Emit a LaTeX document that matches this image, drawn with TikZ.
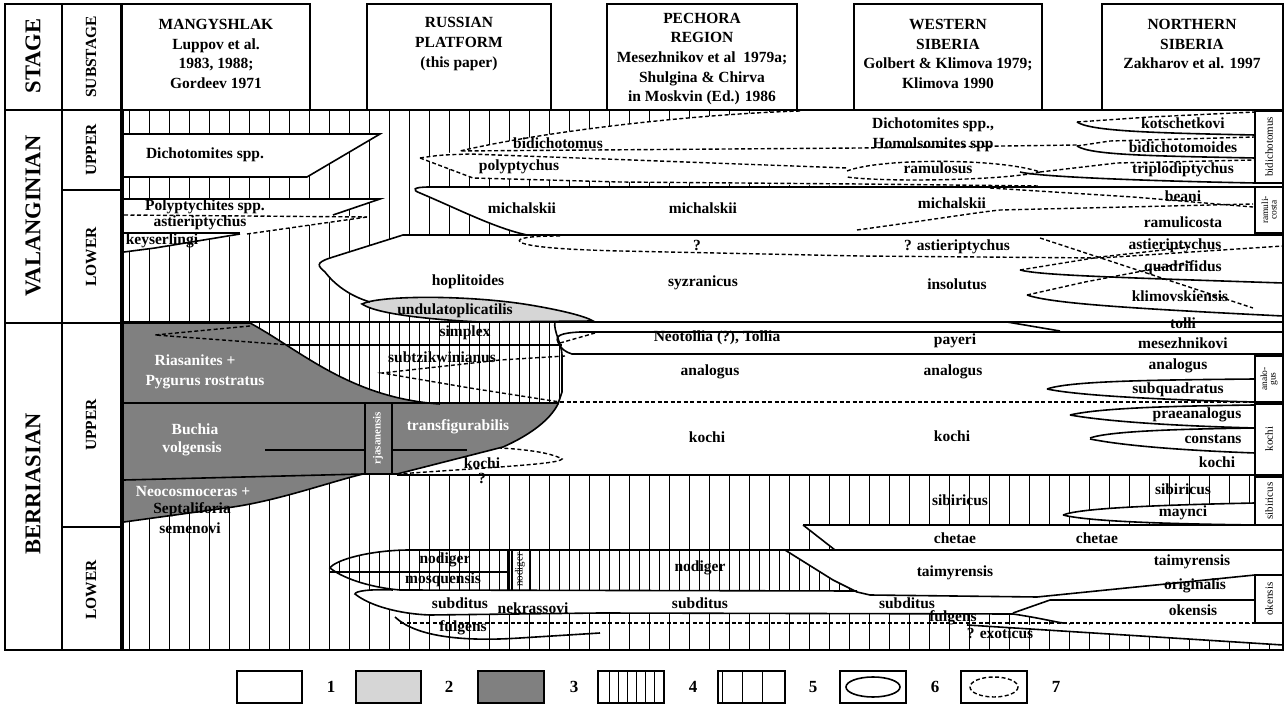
\documentclass[tikz,border=0pt]{standalone}
\usepackage{fontspec}
\setmainfont{Liberation Serif}
\definecolor{dgrey}{RGB}{128,128,128}
\definecolor{lgrey}{RGB}{214,214,214}
\begin{document}
\begin{tikzpicture}[x=1pt,y=-1pt,
  frame/.style={line width=1.8pt},
  hatch/.style={line width=0.65pt},
  ln/.style={line width=1.6pt},
  dsh/.style={line width=1.4pt,dash pattern=on 4pt off 2.5pt},
  lab/.style={font=\fontsize{15.5}{16}\selectfont\bfseries, inner sep=0pt},
  wlab/.style={lab, text=white},
  hdr/.style={font=\fontsize{15.5}{19.7}\selectfont\bfseries, align=center, inner sep=0pt},
  stg/.style={font=\fontsize{22.5}{23}\selectfont\bfseries, rotate=90, inner sep=0pt},
  sub/.style={font=\fontsize{15.5}{16}\selectfont\bfseries, rotate=90, inner sep=0pt},
  sml/.style={font=\fontsize{11}{10}\selectfont, rotate=90, inner sep=0pt, align=center},
  leg/.style={font=\fontsize{17}{18}\selectfont\bfseries, inner sep=0pt}]
\useasboundingbox (0,0) rectangle (1286,708);
\fill[white] (0,0) rectangle (1286,708);

% ---------- sparse hatch over body ----------
\foreach \x in {129,149,...,1270} \draw[hatch] (\x,111) -- (\x,649);

% ---------- dense hatch regions ----------
\begin{scope}
  \clip (124,322) -- (555,322) .. controls (553,330) and (562,345) .. (562,355) -- (562,392) -- (558,404) -- (124,404) -- cycle;
  \foreach \x in {139,159,...,560} \draw[hatch] (\x,320) -- (\x,406);
\end{scope}
\begin{scope}
  \clip (410,550) .. controls (370,550) and (335,560) .. (330,568) .. controls (345,580) and (375,588) .. (400,590) -- (857,591) -- (833,580) -- (785,550) -- cycle;
  \foreach \x in {339,359,...,860} \draw[hatch] (\x,548) -- (\x,593);
\end{scope}

% ---------- white zones ----------
\fill[white] (124,134) -- (380,134) -- (307,177) -- (124,177) -- cycle;
\fill[white] (420,158) -- (460,151) .. controls (550,130) and (700,114) .. (800,111) -- (1282,111) -- (1282,187) -- (860,186) -- (620,182) -- (473,178) -- cycle;
\fill[white] (124,199) -- (380,199) -- (333,215) -- (367,217) -- (247,234) -- (155,248) -- (124,252) -- cycle;
\fill[white] (430,187) .. controls (412,187) and (412,190) .. (420,193) .. controls (460,210) and (495,228) .. (527,235) -- (1282,235) -- (1282,187) -- cycle;
\fill[white] (403,235) -- (1282,235) -- (1282,322) -- (600,322) -- (470,318) -- (370,302) .. controls (350,296) and (335,285) .. (325,272) .. controls (318,266) and (315,263) .. (330,258) -- cycle;
\fill[white] (555,322) -- (1282,322) -- (1282,475) -- (397,475) -- (503,447) .. controls (530,435) and (550,420) .. (558,404) -- (562,392) -- (562,355) .. controls (562,345) and (553,330) .. (555,322) -- cycle;
\fill[white] (1063,515) .. controls (1080,508) and (1160,505) .. (1255,503) -- (1255,525) .. controls (1180,524) and (1090,522) .. (1063,515) -- cycle;
\fill[white] (803,525) -- (1282,525) -- (1282,550) -- (835,550) -- cycle;
\fill[white] (785,550) -- (1282,550) -- (1282,575) -- (1255,575) -- (1037,597) -- (870,595) -- (857,592) -- (833,580) -- cycle;
\fill[white] (393,590) -- (857,591) -- (870,595) -- (1037,597) -- (1255,575) -- (1282,575) -- (1282,623) -- (1063,623) .. controls (1055,622) and (1040,618) .. (1013,614) -- (600,613) -- (430,615) .. controls (400,614) and (370,606) .. (355,594) .. controls (355,591) and (370,589) .. (393,590) -- cycle;
\fill[white] (967,625) -- (1282,624) -- (1282,645) -- cycle;

% ---------- grey zones ----------
\fill[dgrey] (124,323) -- (250,323) .. controls (300,350) and (350,398) .. (440,404) -- (558,404) .. controls (550,420) and (530,435) .. (503,447) -- (397,474) -- (363,474) .. controls (330,482) and (280,500) .. (233,507) -- (124,522) -- cycle;
\filldraw[ln, fill=lgrey] (362,304) .. controls (380,295) and (470,295) .. (530,305) .. controls (560,310) and (585,316) .. (593,321) -- (480,322) .. controls (420,319) and (375,313) .. (362,304) -- cycle;

% ---------- Valanginian upper lines ----------
\draw[ln] (124,134) -- (380,134) -- (307,177) -- (124,177);
\draw[dsh] (800,111) .. controls (700,114) and (550,130) .. (460,151) -- (860,148) -- (1077,145);
\draw[dsh] (420,158) .. controls (440,155) .. (470,154) -- (847,168);
\draw[dsh] (420,158) -- (473,178) -- (620,182) -- (860,184) -- (1040,186);
\draw[dsh] (847,171) .. controls (880,158) and (1000,158) .. (1040,172) .. controls (1000,181) and (880,182) .. (847,177);
\draw[ln] (1077,122) .. controls (1090,131) and (1150,133) .. (1255,135);
\draw[dsh] (1077,122) -- (1150,117) -- (1255,112);
\draw[ln] (1077,146) .. controls (1090,155) and (1150,156) .. (1255,158);
\draw[dsh] (1077,146) -- (1110,141) -- (1255,137);
\draw[ln] (1020,172) .. controls (1040,177) and (1150,181) .. (1255,183);
\draw[dsh] (1040,172) -- (1117,163) -- (1255,160);

% ---------- Valanginian lower lines ----------
\draw[ln] (124,199) -- (380,199) -- (333,215);
\draw[dsh] (124,215) -- (367,217);
\draw[dsh] (247,234) -- (367,217);
\draw[ln] (124,233) -- (240,233);
\draw[ln] (124,252) -- (155,248) -- (240,234);
\draw[ln] (1283,187) -- (430,187) .. controls (412,187) and (412,190) .. (420,193) .. controls (460,210) and (495,228) .. (527,235);
\draw[ln] (1283,235) -- (403,235) -- (330,258) .. controls (315,263) and (318,266) .. (325,272) .. controls (335,285) and (350,296) .. (370,302);
\draw[dsh] (560,236) .. controls (530,236) and (516,238) .. (520,242) .. controls (530,248) and (580,250) .. (620,251) -- (860,256) -- (1100,258) -- (1283,246);
\draw[dsh] (1040,238) -- (1253,308);
\draw[ln] (1020,270) .. controls (1040,275) and (1100,277) .. (1283,283);
\draw[dsh] (1020,270) -- (1100,257) -- (1190,247);
\draw[ln] (1027,295) .. controls (1050,303) and (1120,308) .. (1283,316);
\draw[dsh] (1027,295) -- (1085,282) -- (1190,262);
\draw[dsh] (857,230) .. controls (930,220) and (980,212) .. (1000,210) -- (1253,204);
\draw[dsh] (990,188) -- (1133,197) -- (1253,207);
\draw[ln] (1007,322) -- (1060,331);

% ---------- Berriasian upper lines ----------
\draw[ln] (124,323) -- (250,323) .. controls (300,350) and (350,398) .. (440,404);
\draw[ln] (124,403) -- (558,403);
\draw[ln] (290,345) -- (562,345);
\draw[ln] (555,322) .. controls (553,330) and (562,345) .. (562,355) -- (562,392) -- (558,404) .. controls (550,420) and (530,435) .. (503,447) -- (397,474);
\draw[dsh] (250,326) -- (155,335) -- (290,345);
\draw[dsh] (565,356) -- (500,360) -- (382,373) -- (470,388) -- (560,402);
\draw[dsh] (560,402) -- (1255,402);
\draw[ln] (1283,332) -- (580,332) .. controls (560,333) and (555,336) .. (558,342) .. controls (560,348) and (565,352) .. (572,354) -- (1283,354);
\draw[dsh] (560,343) -- (595,333);
\draw[ln] (124,480) -- (363,474);
\draw[ln] (124,522) -- (233,507) .. controls (280,500) and (330,482) .. (363,474) -- (397,474);
\draw[ln, fill=dgrey] (365,403) rectangle (392,474);
\draw[ln] (265,450) -- (365,450);
\draw[ln] (392,450) -- (467,450);
\draw[dsh] (397,474) -- (500,467) .. controls (540,464) and (560,462) .. (562,459) .. controls (550,452) and (520,449) .. (500,448);
\draw[ln] (397,475) -- (1283,475);
\draw[ln] (1047,389) .. controls (1070,381) and (1150,380) .. (1255,379);
\draw[ln] (1047,389) .. controls (1080,396) and (1170,400) .. (1255,402);
\draw[ln] (1070,415) .. controls (1100,408) and (1170,406) .. (1255,405);
\draw[ln] (1070,415) .. controls (1110,422) and (1180,426) .. (1255,428);
\draw[ln] (1090,438) .. controls (1110,431) and (1180,429) .. (1255,428);
\draw[ln] (1090,439) .. controls (1130,447) and (1200,451) .. (1255,453);

% ---------- Berriasian sibiricus + lower lines ----------
\draw[ln] (1063,515) .. controls (1080,508) and (1160,505) .. (1255,503);
\draw[ln] (1063,515) .. controls (1090,522) and (1180,524) .. (1255,525);
\draw[ln] (803,525) -- (1283,525);
\draw[ln] (803,525) -- (835,550);
\draw[ln] (410,550) -- (1283,550);
\draw[ln] (410,550) .. controls (370,550) and (335,560) .. (330,568) .. controls (345,580) and (375,588) .. (400,590) -- (857,591);
\draw[ln] (330,572) -- (508,572);
\draw[ln] (508,550) -- (508,590);
\draw[ln] (512,550) -- (512,590);
\draw[ln] (530,550) -- (530,590);
\draw[ln] (785,550) -- (833,580) -- (857,592) -- (870,595) -- (1037,597) -- (1255,575) -- (1283,575);
\draw[ln] (1050,600) -- (1255,600);
\draw[ln] (1050,600) -- (1013,613);
\draw[ln] (393,590) .. controls (370,589) and (355,591) .. (355,594) .. controls (370,606) and (400,614) .. (430,615) -- (600,613) -- (1013,614) .. controls (1040,618) and (1055,622) .. (1063,623);
\draw[dsh] (400,623) -- (1283,623);
\draw[ln] (395,617) .. controls (415,636) and (460,642) .. (520,638) -- (600,633);
\draw[ln] (967,625) -- (1283,645);

% ---------- right sub-columns ----------
\draw[ln, fill=white] (1255,111) rectangle (1283,183);
\draw[ln, fill=white] (1255,187) rectangle (1283,233);
\draw[ln, fill=white] (1255,356) rectangle (1283,402);
\draw[ln, fill=white] (1255,404) rectangle (1283,475);
\draw[ln, fill=white] (1255,477) rectangle (1283,525);
\draw[ln, fill=white] (1255,575) rectangle (1283,623);

% ---------- frame ----------
\draw[frame] (5,4) rectangle (62,110);
\draw[frame] (62,4) rectangle (121,110);
\draw[frame] (122,4) rectangle (310,110);
\draw[frame] (367,4) rectangle (551,110);
\draw[frame] (607,4) rectangle (797,110);
\draw[frame] (854,4) rectangle (1042,110);
\draw[frame] (1102,4) rectangle (1283,110);
\draw[frame] (5,110) rectangle (62,650);
\draw[frame] (62,110) rectangle (121,650);
\draw[frame] (5,323) -- (121,323);
\draw[frame] (62,190) -- (121,190);
\draw[frame] (62,527) -- (121,527);
\draw[frame] (123,110) rectangle (1283,650);
\draw[line width=2.8pt] (123,110) -- (123,650);
\draw[frame] (123,322) -- (1283,322);

% ---------- header texts ----------
\node[hdr] (hm) at (216,54) {MANGYSHLAK\\Luppov et al.\\1983, 1988;\\Gordeev 1971};
\node[hdr] (hr) at (459,44) {RUSSIAN\\PLATFORM\\(this paper)};
\node[hdr] (hp) at (702,59) {PECHORA\\REGION\\Mesezhnikov et al\ \ 1979a;\\Shulgina \& Chirva\\in Moskvin (Ed.) 1986};
\node[hdr] (hw) at (948,54) {WESTERN\\SIBERIA\\Golbert \& Klimova 1979;\\Klimova 1990};
\node[hdr] (hn) at (1192,44) {NORTHERN\\SIBERIA\\Zakharov et al. 1997};
\node[stg] (stage) at (33,56) {STAGE};
\node[sub] (substage) at (91,57) {SUBSTAGE};
\node[stg] (val) at (33,216) {VALANGINIAN};
\node[stg] (ber) at (33,484) {BERRIASIAN};
\node[sub] (vu) at (91,150) {UPPER};
\node[sub] (vl) at (91,257) {LOWER};
\node[sub] (bu) at (91,425) {UPPER};
\node[sub] (bl) at (91,590) {LOWER};

% ---------- zone labels ----------
\node[lab] (a1) at (205,155) {Dichotomites spp.};
\node[lab] (a2) at (558,143) {bidichotomus};
\node[lab] (a3) at (519,167) {polyptychus};
\node[lab] (a4) at (933,125) {Dichotomites spp.,};
\node[lab] (a5) at (933,145) {Homolsomites spp};
\node[lab] (a6) at (938,168) {ramulosus};
\node[lab] (a7) at (1183,123) {kotschetkovi};
\node[lab] (a8) at (1183,147) {bidichotomoides};
\node[lab] (a9) at (1183,170) {triplodiptychus};
\node[lab] (b1) at (205,207) {Polyptychites spp.};
\node[lab] (b2) at (200,223) {astieriptychus};
\node[lab] (b3) at (162,241) {keyserlingi};
\node[lab] (b4) at (522,208) {michalskii};
\node[lab] (b5) at (703,208) {michalskii};
\node[lab] (b6) at (952,203) {michalskii};
\node[lab] (b7) at (697,245) {?};
\node[lab] (b8) at (957,247) {? astieriptychus};
\node[lab] (b9) at (468,282) {hoplitoides};
\node[lab] (b10) at (703,283) {syzranicus};
\node[lab] (b11) at (957,284) {insolutus};
\node[lab] (b12) at (455,311) {undulatoplicatilis};
\node[lab] (b13) at (1183,196) {beani};
\node[lab] (b14) at (1183,222) {ramulicosta};
\node[lab] (b15) at (1175,246) {astieriptychus};
\node[lab] (b16) at (1183,268) {quadrifidus};
\node[lab] (b17) at (1180,296) {klimovskiensis};
\node[lab] (b18) at (1183,323) {tolli};
\node[lab] (c1) at (465,333) {simplex};
\node[lab] (c2) at (442,357) {subtzikwinianus};
\node[lab] (c3) at (717,338) {Neotollia (?), Tollia};
\node[lab] (c4) at (955,341) {payeri};
\node[lab] (c5) at (1183,343) {mesezhnikovi};
\node[wlab] (c6) at (195,360) {Riasanites +};
\node[wlab] (c7) at (205,382) {Pygurus rostratus};
\node[lab] (c8) at (710,372) {analogus};
\node[lab] (c9) at (953,372) {analogus};
\node[lab] (c10) at (1178,366) {analogus};
\node[lab] (c11) at (1178,390) {subquadratus};
\node[wlab] (c12) at (195,429) {Buchia};
\node[wlab] (c13) at (192,449) {volgensis};
\node[wlab] (c14) at (458,427) {transfigurabilis};
\node[lab] (c15) at (707,437) {kochi};
\node[lab] (c16) at (952,436) {kochi};
\node[lab] (c17) at (1197,415) {praeanalogus};
\node[lab] (c18) at (1213,439) {constans};
\node[lab] (c19) at (1217,462) {kochi};
\node[lab] (c20) at (482,463) {kochi};
\node[lab] (c21) at (482,478) {?};
\node[wlab] (c22) at (193,492) {Neocosmoceras +};
\node[lab] (c23) at (192,510) {Septaliforia};
\node[lab] (c24) at (190,528) {semenovi};
\node[lab] (d1) at (960,500) {sibiricus};
\node[lab] (d2) at (1183,489) {sibiricus};
\node[lab] (d3) at (1183,513) {maynci};
\node[lab] (d4) at (955,538) {chetae};
\node[lab] (d5) at (1097,538) {chetae};
\node[lab] (d6) at (445,560) {nodiger};
\node[lab] (d7) at (443,580) {mosquensis};
\node[sml] (d8) at (520,570) {nodiger};
\node[lab] (d9) at (700,568) {nodiger};
\node[lab] (d10) at (955,573) {taimyrensis};
\node[lab] (d11) at (1192,562) {taimyrensis};
\node[lab] (d12) at (1195,586) {originalis};
\node[lab] (d13) at (1193,610) {okensis};
\node[lab] (d14) at (460,603) {subditus};
\node[lab] (d15) at (533,608) {nekrassovi};
\node[lab] (d16) at (700,603) {subditus};
\node[lab] (d17) at (907,603) {subditus};
\node[lab] (d18) at (463,628) {fulgens};
\node[lab] (d19) at (953,618) {fulgens};
\node[lab] (d20) at (1000,633) {? exoticus};
\node[sml] (s1) at (1269,147) {bidichotomus};
\node[sml, font=\fontsize{9.5}{8.5}\selectfont] (s2) at (1269,210) {ramuli-\\costa};
\node[sml, font=\fontsize{9.5}{8.5}\selectfont] (s3) at (1269,379) {analo-\\gus};
\node[sml] (s4) at (1269,439) {kochi};
\node[sml] (s5) at (1269,501) {sibiricus};
\node[sml] (s6) at (1269,599) {okensis};
\node[sml, text=white, font=\fontsize{11}{10}\selectfont\bfseries] (s7) at (378,438) {rjasanensis};

% ---------- legend ----------
\draw[ln] (237,671) rectangle (302,703);
\node[leg] (l1) at (331,687) {1};
\draw[ln, fill=lgrey] (356,671) rectangle (421,703);
\node[leg] (l2) at (449,687) {2};
\draw[ln, fill=dgrey] (478,671) rectangle (544,703);
\node[leg] (l3) at (574,687) {3};
\foreach \x in {609,618,627,636,645,654} \draw[hatch] (\x,671) -- (\x,703);
\draw[ln] (598,671) rectangle (664,703);
\node[leg] (l4) at (693,687) {4};
\foreach \x in {722,742,762} \draw[hatch] (\x,671) -- (\x,703);
\draw[ln] (718,671) rectangle (785,703);
\node[leg] (l5) at (813,687) {5};
\draw[ln] (840,671) rectangle (906,703);
\draw[ln] (873,687) ellipse [x radius=27, y radius=10];
\node[leg] (l6) at (935,687) {6};
\draw[ln] (961,671) rectangle (1027,703);
\draw[dsh] (994,687) ellipse [x radius=24, y radius=10];
\node[leg] (l7) at (1056,687) {7};
\end{tikzpicture}
\end{document}
